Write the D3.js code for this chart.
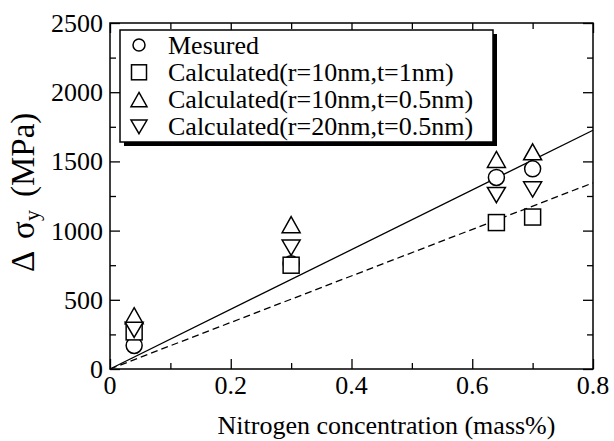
<!DOCTYPE html>
<html><head><meta charset="utf-8">
<script src="https://cdn.jsdelivr.net/npm/d3@7"></script>
<style>html,body{margin:0;padding:0;background:#fff;}svg{display:block;}</style>
</head><body>
<script>
const xValues = [0.04, 0.3, 0.64, 0.7];
const measured = [170, 760, 1384, 1446];
const calc10_1 = [268, 750, 1058, 1098];
const calc10_05 = [385, 1043, 1514, 1569];
const calc20_05 = [283, 876, 1257, 1297];
const lineX = [0, 0.8];
const solidLine = [0, 1725];
const dashedLine = [0, 1345];
const xTicks = [0, 0.2, 0.4, 0.6, 0.8];
const xMinor = [0.1, 0.3, 0.5, 0.7];
const yTicks = [0, 500, 1000, 1500, 2000, 2500];
const yMinor = [250, 750, 1250, 1750, 2250];
const legendLabels = ["Mesured", "Calculated(r=10nm,t=1nm)", "Calculated(r=10nm,t=0.5nm)", "Calculated(r=20nm,t=0.5nm)"];
const xLabel = "Nitrogen concentration (mass%)";

const FF = "Liberation Serif";
const W = 614, H = 441;
const L = 110, R = 593, T = 23, B = 369;
const svg = d3.select("body").append("svg").attr("width", W).attr("height", H);
const x = d3.scaleLinear().domain([0, 0.8]).range([L, R]);
const y = d3.scaleLinear().domain([0, 2500]).range([B, T]);

const lineGen = d3.line().x((d, i) => x(lineX[i])).y(d => y(d));
svg.append("path").attr("d", lineGen(solidLine)).attr("fill", "none").attr("stroke", "#000").attr("stroke-width", 1.3);
svg.append("path").attr("d", lineGen(dashedLine)).attr("fill", "none").attr("stroke", "#000").attr("stroke-width", 1.3).attr("stroke-dasharray", "7,4");

function axisGroup(axis, tr) {
  const g = svg.append("g").attr("transform", tr).call(axis);
  g.selectAll(".domain").remove();
  g.selectAll("line").attr("stroke", "#000").attr("stroke-width", 1.3);
  g.selectAll("text").remove();
  return g;
}
axisGroup(d3.axisBottom(x).tickValues(xTicks).tickSize(-10), `translate(0,${B})`);
axisGroup(d3.axisBottom(x).tickValues(xMinor).tickSize(-6), `translate(0,${B})`);
axisGroup(d3.axisTop(x).tickValues(xTicks).tickSize(-10), `translate(0,${T})`);
axisGroup(d3.axisTop(x).tickValues(xMinor).tickSize(-6), `translate(0,${T})`);
axisGroup(d3.axisLeft(y).tickValues(yTicks).tickSize(-10), `translate(${L},0)`);
axisGroup(d3.axisLeft(y).tickValues(yMinor).tickSize(-6), `translate(${L},0)`);
axisGroup(d3.axisRight(y).tickValues(yTicks).tickSize(-10), `translate(${R},0)`);
axisGroup(d3.axisRight(y).tickValues(yMinor).tickSize(-6), `translate(${R},0)`);
svg.append("rect").attr("x", L).attr("y", T).attr("width", R - L).attr("height", B - T)
  .attr("fill", "none").attr("stroke", "#000").attr("stroke-width", 1.5);

svg.append("g").selectAll("text").data(xTicks).join("text")
  .attr("x", d => x(d)).attr("y", 394).attr("text-anchor", "middle")
  .attr("font-family", FF).attr("font-size", 26).text(d => d === 0 ? "0" : d3.format(".1f")(d));
svg.append("g").selectAll("text").data(yTicks).join("text")
  .attr("x", 103).attr("y", d => y(d) + 9).attr("text-anchor", "end")
  .attr("font-family", FF).attr("font-size", 26).text(d => d);

svg.append("text").attr("x", (L + R) / 2 + 35).attr("y", 434).attr("text-anchor", "middle")
  .attr("font-family", FF).attr("font-size", 26).text(xLabel);
const yl = svg.append("text").attr("transform", "translate(34,0) rotate(-90)")
  .attr("font-family", FF).attr("font-size", 33);
yl.append("tspan").attr("x", -272).text("Δ");
yl.append("tspan").attr("x", -239).text("σ");
yl.append("tspan").attr("x", -221).attr("dy", 5).attr("font-size", 22).text("y");
yl.append("tspan").attr("x", -197).attr("dy", -5).text("(MPa)");

const triUp = s => `M0,${-s*0.89}L${s},${s*0.89}L${-s},${s*0.89}Z`;
const triDown = s => `M0,${s*0.85}L${s},${-s*0.85}L${-s},${-s*0.85}Z`;
const mk = {
  circle: (g, r) => g.append("circle").attr("r", r),
  square: (g, r) => g.append("rect").attr("x", -r).attr("y", -r).attr("width", 2*r).attr("height", 2*r),
  up: (g, r) => g.append("path").attr("d", triUp(r)),
  down: (g, r) => g.append("path").attr("d", triDown(r))
};
const series = [
  {vals: measured, type: "circle", r: 8},
  {vals: calc10_1, type: "square", r: 8},
  {vals: calc10_05, type: "up", r: 9},
  {vals: calc20_05, type: "down", r: 9}
];
series.forEach(s => {
  s.vals.forEach((v, i) => {
    const g = svg.append("g").attr("transform", `translate(${x(xValues[i])},${y(v)})`);
    mk[s.type](g, s.r).attr("fill", "#fff").attr("stroke", "#000").attr("stroke-width", 1.5);
  });
});

svg.append("rect").attr("x", 124).attr("y", 34).attr("width", 373).attr("height", 112).attr("fill", "#000");
svg.append("rect").attr("x", 120).attr("y", 30).attr("width", 373).attr("height", 112)
  .attr("fill", "#fff").attr("stroke", "#000").attr("stroke-width", 1.5);
const legR = [6, 7.5, 8, 8];
legendLabels.forEach((lab, i) => {
  const cy = 45 + i * 27.3;
  const g = svg.append("g").attr("transform", `translate(139,${cy})`);
  mk[series[i].type](g, legR[i]).attr("fill", "#fff").attr("stroke", "#000").attr("stroke-width", 1.5);
  svg.append("text").attr("x", 168).attr("y", cy + 8.5)
    .attr("font-family", FF).attr("font-size", 26).text(lab);
});
</script>
</body></html>
